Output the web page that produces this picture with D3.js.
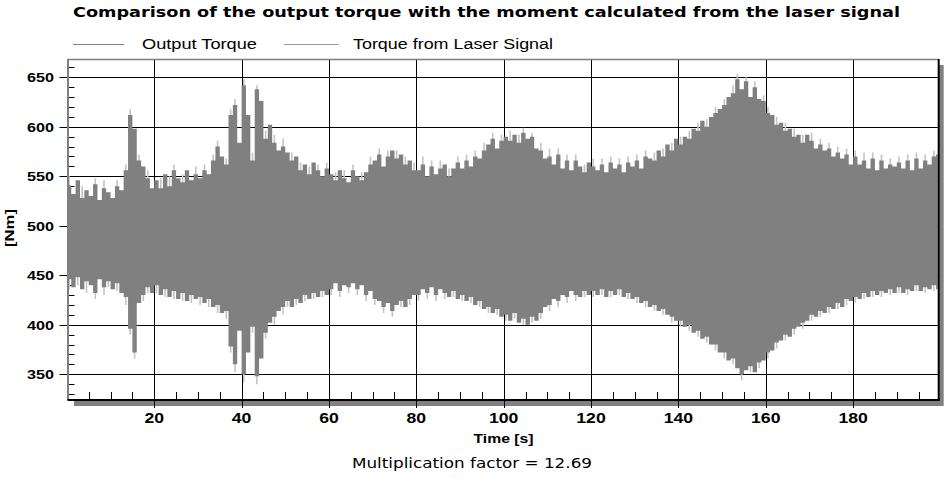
<!DOCTYPE html>
<html><head><meta charset="utf-8">
<script src="https://cdn.jsdelivr.net/npm/d3@7"></script>
<style>html,body{margin:0;padding:0;background:#fff;}svg{display:block;}</style>
</head><body>
<svg id="c" width="944" height="478"></svg>
<script>
// ---- data (min/max envelope per 1 s bin) ----
const binStart = 0, binWidth = 1;
const outHi = [
541,532,546,528,536,530,542,526,538,534, 528,540,536,556,612,598,566,560,548,538,
546,538,552,540,556,548,544,556,546,552, 548,556,552,566,580,570,562,612,622,584,
642,612,566,638,626,588,602,584,576,580, 574,566,570,556,562,552,564,556,550,558,
552,546,556,548,544,556,550,546,554,562, 566,572,560,570,576,568,572,562,566,556,
556,562,550,560,552,558,562,550,558,564, 558,566,560,570,568,576,582,588,578,586,
590,586,592,584,594,588,590,578,576,568, 570,562,572,558,566,556,566,560,554,564,
560,556,562,554,564,558,562,554,564,560, 566,558,570,568,566,576,570,582,576,588,
582,590,588,598,596,606,600,610,614,618, 622,630,634,648,638,646,630,640,628,626,
614,612,602,604,596,598,590,592,584,592, 586,578,582,576,578,570,574,568,572,562,
570,562,566,558,568,556,566,558,562,560, 564,558,566,556,568,558,566,562,570,572];
const outLo = [
446,438,448,436,444,440,432,446,438,444, 436,442,432,428,396,372,422,430,438,432,
440,430,436,428,434,426,432,424,430,426, 428,422,426,418,420,412,414,378,360,394,
350,372,398,348,366,392,402,408,414,418, 424,418,426,422,430,426,432,428,434,430,
436,442,434,440,438,442,436,440,430,434, 426,424,418,422,414,420,424,418,426,430,
430,436,432,438,430,436,432,428,434,426, 430,424,428,420,424,416,418,412,416,408,
410,404,412,402,406,400,408,404,412,418, 420,426,424,430,428,434,430,428,434,430,
434,430,436,428,434,430,436,428,432,426, 428,422,424,418,420,414,416,410,408,404,
404,398,400,392,394,386,388,380,380,372, 372,364,366,356,350,354,358,352,362,364,
372,374,382,384,390,388,396,398,402,404, 410,408,414,412,418,416,422,418,426,424,
428,426,432,428,434,430,434,432,436,432, 438,432,436,434,440,434,438,436,440,436];
const laserHi = [
550,526,540,540,530,524,548,520,546,528, 524,546,530,562,618,592,572,554,556,532,
540,548,546,550,562,542,552,550,540,560, 542,562,546,572,586,564,568,618,628,578,
648,606,574,642,620,596,598,592,570,588, 568,574,564,564,556,560,558,562,544,564,
546,554,550,556,538,562,544,554,548,570, 560,578,556,576,572,576,566,570,560,564,
550,570,546,566,546,566,556,558,552,570, 552,572,556,576,562,584,576,594,572,592,
584,596,588,592,599,582,594,572,584,562, 578,556,578,552,572,550,572,554,562,558,
568,550,568,548,570,552,568,548,570,554, 572,552,576,562,574,570,578,576,584,582,
590,584,596,592,604,600,608,604,620,612, 628,624,642,653,632,650,626,646,622,632,
620,606,610,598,604,592,598,586,592,586, 594,572,588,570,584,564,580,562,578,556,
576,556,574,552,574,550,572,552,568,554, 570,552,572,550,574,552,572,556,576,578];
const laserLo = [
436,444,440,442,432,446,426,452,430,438, 442,434,438,420,390,366,428,424,432,438,
432,436,428,434,426,432,424,430,422,432, 420,428,418,424,412,418,406,372,352,400,
342,378,392,340,372,386,406,400,418,410, 418,424,420,428,424,432,426,434,428,436,
430,446,428,444,432,446,430,444,424,438, 420,430,412,426,408,424,418,424,420,434,
424,440,426,442,424,440,426,432,428,432, 424,430,422,426,418,422,412,418,410,414,
404,410,406,408,400,406,402,410,406,422, 414,430,418,434,422,438,424,432,428,434,
428,434,430,432,428,434,430,432,426,430, 422,426,418,422,414,418,410,414,402,408,
398,402,394,396,388,390,382,384,374,376, 366,368,360,360,344,358,352,356,356,368,
366,378,376,388,384,392,390,402,396,408, 404,412,408,416,412,420,416,422,420,428,
422,430,426,432,428,434,428,436,430,436, 432,436,430,438,434,438,432,440,434,440];
const xTickLabels = [20,40,60,80,100,120,140,160,180];
const yTickLabels = [350,400,450,500,550,600,650];
const seriesNames = ["Output Torque","Torque from Laser Signal"];
const titleText = "Comparison of the output torque with the moment calculated from the laser signal";
const xTitle = "Time [s]", yTitle = "[Nm]";
const footText = "Multiplication factor = 12.69";

// ---- layout ----
const L = 67.5, R = 938.7, T = 59, B = 400;
const x = d3.scaleLinear().domain([0.14, 199.6]).range([L, R]);
const y = d3.scaleLinear().domain([324, 668.5]).range([B, T]);
const svg = d3.select("#c");
const colDark = "#808080", colLight = "#c4c4c4";

// shadow
svg.append("rect").attr("x", 74).attr("y", B).attr("width", 943 - 74).attr("height", 6).attr("fill", "#808080");
svg.append("rect").attr("x", R).attr("y", 65).attr("width", 5).attr("height", B + 6 - 65).attr("fill", "#808080");
svg.append("rect").attr("x", L).attr("y", T).attr("width", R - L).attr("height", B - T).attr("fill", "#fff");

// grid
const g = svg.append("g");
const px = v => Math.round(x(v)) + 0.5, py = v => Math.round(y(v)) + 0.5;
g.selectAll(".gy").data(yTickLabels).join("line")
  .attr("x1", L - 8).attr("x2", R).attr("y1", py).attr("y2", py).attr("stroke", "#000");
g.selectAll(".gx").data(xTickLabels).join("line")
  .attr("y1", T).attr("y2", B + 8).attr("x1", px).attr("x2", px).attr("stroke", "#000");
const xMinor = d3.range(5, 200, 5).filter(v => v % 20 !== 0);
const yMinor = d3.range(330, 670, 10).filter(v => v % 50 !== 0);
g.selectAll(".mx").data(xMinor).join("line")
  .attr("y1", B - 8).attr("y2", B).attr("x1", px).attr("x2", px).attr("stroke", "#000");
g.selectAll(".my").data(yMinor).join("line")
  .attr("x1", L).attr("x2", L + 7).attr("y1", py).attr("y2", py).attr("stroke", "#000");

// data
svg.append("clipPath").attr("id", "clp").append("rect")
  .attr("x", L + 1).attr("y", T + 1).attr("width", R - L - 2).attr("height", B - T - 2);
const n = outHi.length;
const t0 = i => binStart + binWidth * i;
const dg = svg.append("g").attr("clip-path", "url(#clp)");
// laser signal: min-max line per bin (behind)
dg.selectAll(".ls").data(d3.range(n)).join("line")
  .attr("x1", i => x(t0(i) + binWidth / 2)).attr("x2", i => x(t0(i) + binWidth / 2))
  .attr("y1", i => y(laserHi[i])).attr("y2", i => y(laserLo[i]))
  .attr("stroke", colLight).attr("stroke-width", 1.6);
// output torque: min-max envelope as a stepped area
const k = i => Math.min(i, n - 1);
const area = d3.area().curve(d3.curveStepAfter)
  .x(i => x(t0(i))).y0(i => y(outLo[k(i)])).y1(i => y(outHi[k(i)]));
dg.append("path").datum(d3.range(n + 1)).attr("d", area).attr("fill", colDark);

// frame
svg.append("line").attr("x1", L).attr("x2", R).attr("y1", T + 0.5).attr("y2", T + 0.5).attr("stroke", "#808080").attr("stroke-width", 1.5);
svg.append("line").attr("x1", L + 0.5).attr("x2", L + 0.5).attr("y1", T).attr("y2", B).attr("stroke", "#808080").attr("stroke-width", 2);
svg.append("line").attr("x1", L).attr("x2", R + 1).attr("y1", B).attr("y2", B).attr("stroke", "#000").attr("stroke-width", 2);
svg.append("line").attr("x1", R).attr("x2", R).attr("y1", T).attr("y2", B).attr("stroke", "#000").attr("stroke-width", 2);

// text helper
function txt(xp, yp, s, o) {
  const e = svg.append("text").attr("x", xp).attr("y", yp).text(s)
    .attr("font-family", o.family || "'Liberation Sans', Arial, sans-serif")
    .attr("font-size", o.size).attr("font-weight", o.weight || "normal")
    .attr("text-anchor", o.anchor || "middle").attr("fill", "#000");
  if (o.len) e.attr("textLength", o.len).attr("lengthAdjust", "spacingAndGlyphs");
  if (o.rot) e.attr("transform", `rotate(${o.rot},${xp},${yp})`);
  return e;
}
txt(486.5, 17, titleText, {family: "'DejaVu Sans', Verdana, sans-serif", size: 13.5, weight: "bold", len: 827});
const legX = [[73, 124, 142, 115], [284, 339, 353, 200]];
seriesNames.forEach((nm, i) => {
  svg.append("line").attr("x1", legX[i][0]).attr("x2", legX[i][1]).attr("y1", 44.5).attr("y2", 44.5)
    .attr("stroke", i === 0 ? colDark : "#9a9a9a").attr("stroke-width", 1);
  txt(legX[i][2], 49, nm, {size: 14, anchor: "start", len: legX[i][3]});
});
yTickLabels.forEach(v => txt(54, y(v) + 5, String(v), {size: 13, weight: "bold", anchor: "end", len: 27}));
xTickLabels.forEach(v => txt(x(v), 423, String(v), {size: 14, weight: "bold", len: String(v).length * 9.8}));
txt(503.5, 443, xTitle, {size: 13.5, weight: "bold", len: 60});
txt(14, 228, yTitle, {size: 13, weight: "bold", rot: -90, len: 38});
txt(472, 468, footText, {family: "'DejaVu Sans', Verdana, sans-serif", size: 14, len: 240});
</script>
</body></html>
